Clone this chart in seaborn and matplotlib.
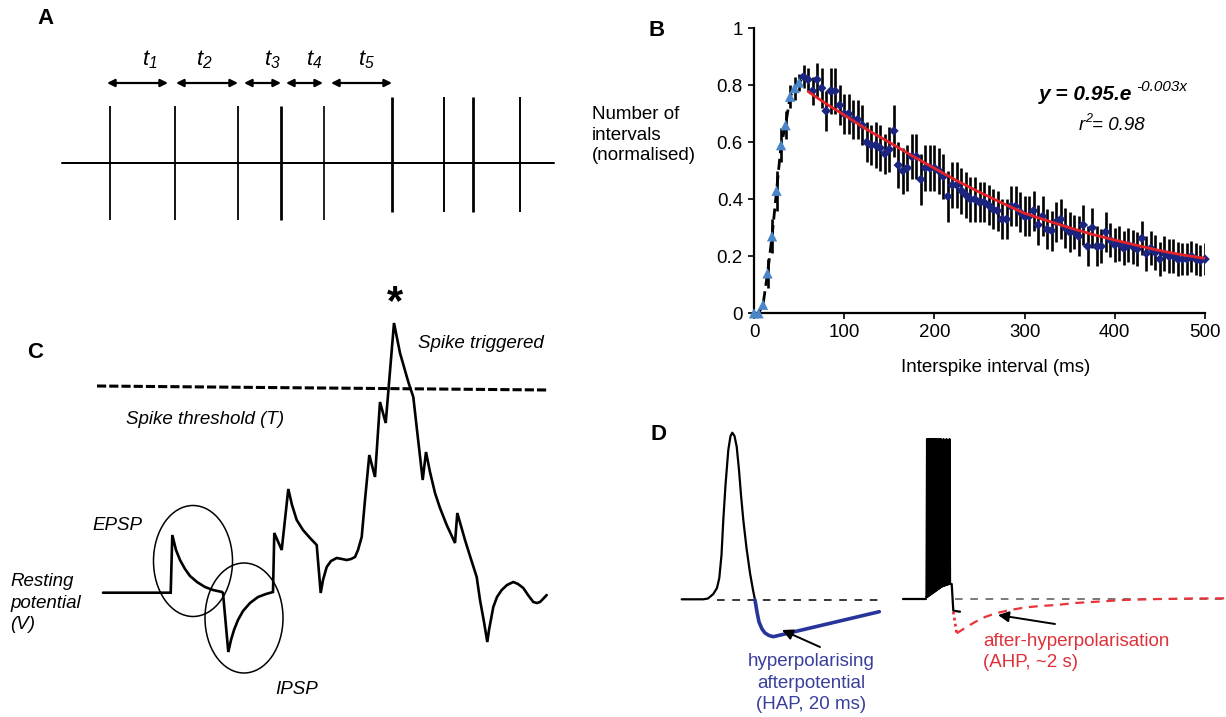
import numpy as np
import pandas as pd
import matplotlib
matplotlib.use("Agg")
import matplotlib.pyplot as plt
from matplotlib.patches import Ellipse
import seaborn as sns

# ---------------- Panel A : spike train ----------------
spike_x = [110, 175, 238, 281, 324, 392, 444, 473, 520]
spike_top = [106, 106, 106, 106, 106, 97, 97, 97, 97]
spike_bot = [220, 220, 220, 220, 220, 212, 212, 212, 212]
spike_w = [1.5, 1.5, 1.5, 2.3, 1.4, 2.3, 1.6, 2.3, 1.6]
interval_start = [107, 176, 244, 286, 331]
interval_end = [168, 238, 281, 323, 392]
interval_labels = [r"$t_1$", r"$t_2$", r"$t_3$", r"$t_4$", r"$t_5$"]
interval_label_x = [150, 204, 272, 314, 366]

# ---------------- Panel B : ISI distribution ----------------
tri_x = [0, 5, 10, 15, 20, 25, 30, 35, 40, 45, 50]
tri_y = [0, 0, 0.03, 0.14, 0.27, 0.43, 0.59, 0.66, 0.76, 0.79, 0.81]
tri_err = [0, 0, 0.01, 0.05, 0.06, 0.07, 0.06, 0.05, 0.04, 0.04, 0.03]

dia_x = list(range(55, 501, 5))
dia_y = [0.83, 0.82, 0.78, 0.82, 0.79, 0.71, 0.78, 0.78, 0.73, 0.70,
         0.70, 0.68, 0.68, 0.66, 0.60, 0.59, 0.59, 0.58, 0.56, 0.575,
         0.64, 0.52, 0.50, 0.51, 0.55, 0.55, 0.47, 0.51, 0.51, 0.51,
         0.50, 0.48, 0.41, 0.45, 0.45, 0.43, 0.415, 0.40, 0.40, 0.39,
         0.39, 0.38, 0.365, 0.36, 0.33, 0.33, 0.375, 0.375, 0.355, 0.34,
         0.34, 0.36, 0.31, 0.34, 0.295, 0.29, 0.32, 0.33, 0.30, 0.285,
         0.285, 0.27, 0.31, 0.235, 0.30, 0.235, 0.235, 0.285, 0.257, 0.24,
         0.245, 0.228, 0.24, 0.234, 0.225, 0.263, 0.21, 0.228, 0.213, 0.19,
         0.21, 0.20, 0.20, 0.19, 0.19, 0.19, 0.20, 0.19, 0.185, 0.19]
dia_err = [0.04, 0.04, 0.05, 0.06, 0.07, 0.07, 0.08, 0.08, 0.07, 0.07,
           0.07, 0.07, 0.07, 0.07, 0.07, 0.07, 0.08, 0.08, 0.07, 0.08,
           0.09, 0.08, 0.08, 0.08, 0.08, 0.08, 0.09, 0.08, 0.08, 0.08,
           0.08, 0.08, 0.09, 0.08, 0.08, 0.08, 0.08, 0.08, 0.08, 0.07,
           0.07, 0.07, 0.07, 0.07, 0.07, 0.07, 0.07, 0.07, 0.07, 0.07,
           0.07, 0.07, 0.07, 0.07, 0.07, 0.07, 0.07, 0.07, 0.07, 0.07,
           0.06, 0.07, 0.07, 0.07, 0.07, 0.07, 0.06, 0.07, 0.06, 0.06,
           0.06, 0.06, 0.06, 0.06, 0.06, 0.06, 0.06, 0.06, 0.06, 0.06,
           0.06, 0.06, 0.06, 0.06, 0.055, 0.055, 0.055, 0.055, 0.055, 0.055]
dash_x = tri_x + [55, 62]
dash_y = tri_y + [0.83, 0.82]
fit_x = [60, 80, 100, 125, 150, 175, 200, 225, 250, 275, 300, 325, 350,
         375, 400, 425, 450, 475, 500]
fit_y = [0.778, 0.735, 0.696, 0.645, 0.600, 0.553, 0.509, 0.465, 0.425,
         0.387, 0.351, 0.325, 0.300, 0.277, 0.257, 0.238, 0.220, 0.205, 0.193]
b_xticks = [0, 100, 200, 300, 400, 500]
b_yticks = [0, 0.2, 0.4, 0.6, 0.8, 1]
b_yticklabels = ["0", "0.2", "0.4", "0.6", "0.8", "1"]

# ---------------- Panel C : membrane potential sketch ----------------
c_x = [103, 170.7, 172.3, 176, 180, 185, 190, 197, 205, 213, 222, 223,
       228.3, 231, 234, 238, 243, 250, 258, 266, 273,
       274.3, 281.7, 288.3, 292, 296.7, 303, 310, 316.7, 320.7,
       323, 326.7, 331, 336.7, 342, 346.7, 351, 355, 358, 361.7, 365, 369.3,
       375, 380, 385.7, 394, 400, 408.3, 413.3, 417, 422.7, 426, 430, 435,
       440, 446.7, 455, 457.3, 465, 470, 476.7, 480, 484, 487.3, 489, 493.3,
       497, 501.7, 507, 513.3, 518, 523.3, 528, 533.3, 537, 540, 543, 546.7]
c_y = [592.7, 592.7, 535, 550, 560, 569, 576, 582, 587, 590, 592, 593,
       652, 640, 630, 620, 611, 603, 597, 594, 592,
       533, 550, 489, 505, 520, 530, 538, 545, 593,
       580, 567, 561, 558, 559, 560, 559, 557, 550, 537, 500, 455,
       477, 402, 423, 323, 353, 382, 397, 430, 480, 452, 472, 493,
       508, 525, 543, 513, 540, 556, 577, 600, 622, 642, 630, 607,
       597, 590, 585, 582, 584, 588, 595, 602, 603, 602, 599, 595]
thr_x = [97, 548]
thr_y = [386, 390]
circle_cx = [193, 244]
circle_cy = [561, 618]
circle_w = [79, 78]
circle_h = [111, 110]

# ---------------- Panel D : afterpotentials ----------------
d1_x = [681.7, 703.3, 708, 713.3, 717, 719.3, 721.5, 723.3, 725.5, 728.3, 730.5,
        732.3, 734.5, 736.7, 739, 741, 743.3, 746.5, 750, 753, 755]
d1_y = [599.3, 599.3, 598.5, 594, 588, 578, 555, 520, 485, 450, 436,
        432.7, 436, 446.7, 470, 495, 520, 548, 573, 590, 600]
hap_x = [755, 757, 759, 762, 765, 769, 773.3, 879.3]
hap_y = [600, 612, 622, 629, 633, 635.5, 636.7, 611.7]
d2_base_x = [903.3, 926]
d2_base_y = [599, 599]
burst_peaks = [927, 928.4, 929.8, 931.2, 932.6, 934, 935.4, 936.8, 938.2,
               939.6, 941, 943.5, 946.5, 949.5]
burst_top = 439
burst_plateau_start, burst_plateau_end = 597, 584
d2_after_x = [950.5, 951.7, 953.3, 960]
d2_after_y = [584, 584, 610.7, 611.7]
ahp_dot_x = [953.3, 956.7]
ahp_dot_y = [611.7, 633.3]
ahp_x = [956.7, 965, 975, 985, 996.7, 1010, 1025, 1040, 1056.7, 1075, 1100,
         1123.3, 1160, 1190, 1226]
ahp_y = [633.3, 628, 622, 617, 613, 610, 607.5, 606, 605, 603, 601.5,
         600, 599, 598.5, 598.3]

# ---------------- figure ----------------
W, H = 1226, 717
sns.set_theme(style="white")
plt.rcParams['font.family'] = ['Liberation Sans', 'DejaVu Sans']
plt.rcParams['mathtext.fontset'] = 'custom'
plt.rcParams['mathtext.it'] = 'Liberation Sans:italic'
plt.rcParams['mathtext.rm'] = 'Liberation Sans:italic'
plt.rcParams['mathtext.sf'] = 'Liberation Sans'
plt.rcParams['text.color'] = 'black'
plt.rcParams['axes.labelcolor'] = 'black'
plt.rcParams['xtick.color'] = 'black'
plt.rcParams['ytick.color'] = 'black'

fig = plt.figure(figsize=(W / 100, H / 100), dpi=100)
fig.patch.set_facecolor('white')
ax0 = fig.add_axes([0, 0, 1, 1])
ax0.set_xlim(0, W)
ax0.set_ylim(H, 0)
ax0.axis('off')

PX = 0.72  # points per pixel
TXT = 13.5
LS = 1.32
LETTER = 16

# ---- Panel A
ax0.text(45, 18, "A", fontsize=LETTER, fontweight='bold', ha='center', va='center')
ax0.plot([62, 554], [163, 163], color='black', lw=2 * PX)
for x, t, b, w in zip(spike_x, spike_top, spike_bot, spike_w):
    ax0.plot([x, x], [t, b], color='black', lw=w * PX * 1.2, solid_capstyle='butt')
for s, e, lab, lx in zip(interval_start, interval_end, interval_labels, interval_label_x):
    ax0.annotate("", xy=(e, 83), xytext=(s, 83),
                 arrowprops=dict(arrowstyle='<|-|>', color='black', lw=1.6,
                                 mutation_scale=11, shrinkA=0, shrinkB=0))
    ax0.text(lx, 60, lab, fontsize=16, ha='center', va='center')

# ---- Panel C
ax0.text(35, 352, "C", fontsize=LETTER, fontweight='bold', ha='center', va='center')
ax0.plot(thr_x, thr_y, color='black', lw=2.2, linestyle=(0, (3.0, 1.0)))
ax0.plot(c_x, c_y, color='black', lw=1.9, solid_joinstyle='miter')
for cx, cy, w, h in zip(circle_cx, circle_cy, circle_w, circle_h):
    ax0.add_patch(Ellipse((cx, cy), w, h, fill=False, edgecolor='black', lw=1.1))
ax0.text(395, 303, "*", fontsize=30, fontweight='bold', ha='center', va='center')
ax0.text(418, 344, "Spike triggered", fontsize=TXT, style='italic', ha='left', va='center')
ax0.text(126, 420, "Spike threshold (T)", fontsize=TXT, style='italic', ha='left', va='center')
ax0.text(92, 525, "EPSP", fontsize=TXT, style='italic', ha='left', va='center')
ax0.text(10, 603, "Resting\npotential\n(V)", fontsize=TXT, style='italic', ha='left',
         va='center', linespacing=LS)
ax0.text(297, 690, "IPSP", fontsize=TXT, style='italic', ha='center', va='center')

# ---- Panel D
ax0.text(658, 435, "D", fontsize=LETTER, fontweight='bold', ha='center', va='center')
ax0.plot([716.7, 880], [600, 600], color='black', lw=1.1, linestyle=(0, (5, 5)))
ax0.plot([955, 1226], [599, 599], color='#555555', lw=1.1, linestyle=(0, (5, 5)))
ax0.plot(d1_x, d1_y, color='black', lw=1.6)
ax0.plot(hap_x, hap_y, color='#27359b', lw=2.6, solid_capstyle='round')
ax0.plot(d2_base_x, d2_base_y, color='black', lw=1.6)
bx, by = [926], [burst_plateau_start]
n = len(burst_peaks)
for i, p in enumerate(burst_peaks):
    base = burst_plateau_start + (burst_plateau_end - burst_plateau_start) * i / (n - 1)
    bx += [p - 0.6, p, p + 0.6]
    by += [base, burst_top, base]
ax0.plot(bx, by, color='black', lw=1.5)
ax0.plot(d2_after_x, d2_after_y, color='black', lw=1.6)
ax0.plot(ahp_dot_x, ahp_dot_y, color='#e8343a', lw=2, linestyle=(0, (1, 1.2)))
ax0.plot(ahp_x, ahp_y, color='#e8343a', lw=1.6, linestyle=(0, (4, 3)))
ax0.annotate("", xy=(782, 630), xytext=(820, 647),
             arrowprops=dict(arrowstyle='-|>', color='black', lw=1.4,
                             mutation_scale=16, shrinkA=0, shrinkB=0))
ax0.annotate("", xy=(998, 615), xytext=(1055, 624),
             arrowprops=dict(arrowstyle='-|>', color='black', lw=1.4,
                             mutation_scale=16, shrinkA=0, shrinkB=0))
ax0.text(811, 683, "hyperpolarising\nafterpotential\n(HAP, 20 ms)", fontsize=TXT,
         color='#3a3f9c', ha='center', va='center', linespacing=LS)
ax0.text(983, 652, "after-hyperpolarisation\n(AHP, ~2 s)", fontsize=TXT,
         color='#e0313a', ha='left', va='center', linespacing=LS)

# ---- Panel B (seaborn)
ax0.text(657, 30, "B", fontsize=LETTER, fontweight='bold', ha='center', va='center')
ax0.text(592, 135, "Number of\nintervals\n(normalised)", fontsize=TXT, ha='left',
         va='center', linespacing=1.3)
ax0.text(996, 367, "Interspike interval (ms)", fontsize=TXT, ha='center', va='center')
ax0.text(1039, 100, "y = 0.95.e", fontsize=15, style='italic', fontweight='bold',
         ha='left', va='baseline')
ax0.text(1136, 91, "-0.003x", fontsize=11, style='italic', ha='left', va='baseline')
ax0.text(1079, 125, "r", fontsize=TXT, style='italic', ha='left', va='center')
ax0.text(1085, 119, "2", fontsize=9, style='italic', ha='left', va='center')
ax0.text(1092, 125, "= 0.98", fontsize=TXT, style='italic', ha='left', va='center')

axB = fig.add_axes([754 / W, 1 - 313.3 / H, 451 / W, 285 / H])
axB.patch.set_alpha(0)
axB.errorbar(dia_x, dia_y, yerr=dia_err, fmt='none', ecolor='black',
             elinewidth=1.9, capsize=0, zorder=2)
axB.errorbar(tri_x, tri_y, yerr=tri_err, fmt='none', ecolor='black',
             elinewidth=1.9, capsize=0, zorder=2)
sns.lineplot(x=dash_x, y=dash_y, ax=axB, color='black', lw=2.0, sort=False,
             estimator=None, linestyle=(0, (4, 2)), zorder=3)
sns.scatterplot(x=dia_x, y=dia_y, ax=axB, marker='D', s=24, color='#1b2580',
                edgecolor='none', zorder=4, clip_on=False)
sns.scatterplot(x=tri_x, y=tri_y, ax=axB, marker='^', s=55, color='#4a86c8',
                edgecolor='none', zorder=5, clip_on=False)
sns.lineplot(x=fit_x, y=fit_y, ax=axB, color='#e3232a', lw=2.0, zorder=6,
             estimator=None)
axB.set_xlim(0, 500)
axB.set_ylim(0, 1)
axB.set_xticks(b_xticks)
axB.set_xticklabels([str(v) for v in b_xticks])
axB.set_yticks(b_yticks)
axB.set_yticklabels(b_yticklabels)
axB.tick_params(direction='out', length=4, width=1.2, labelsize=TXT, pad=4,
                colors='black', labelcolor='black', bottom=True, left=True)
for s in ['top', 'right']:
    axB.spines[s].set_visible(False)
for s in ['left', 'bottom']:
    axB.spines[s].set_color('black')
    axB.spines[s].set_linewidth(1.6)
axB.set_xlabel("")
axB.set_ylabel("")

fig.savefig("out.png", dpi=100, facecolor='white')
